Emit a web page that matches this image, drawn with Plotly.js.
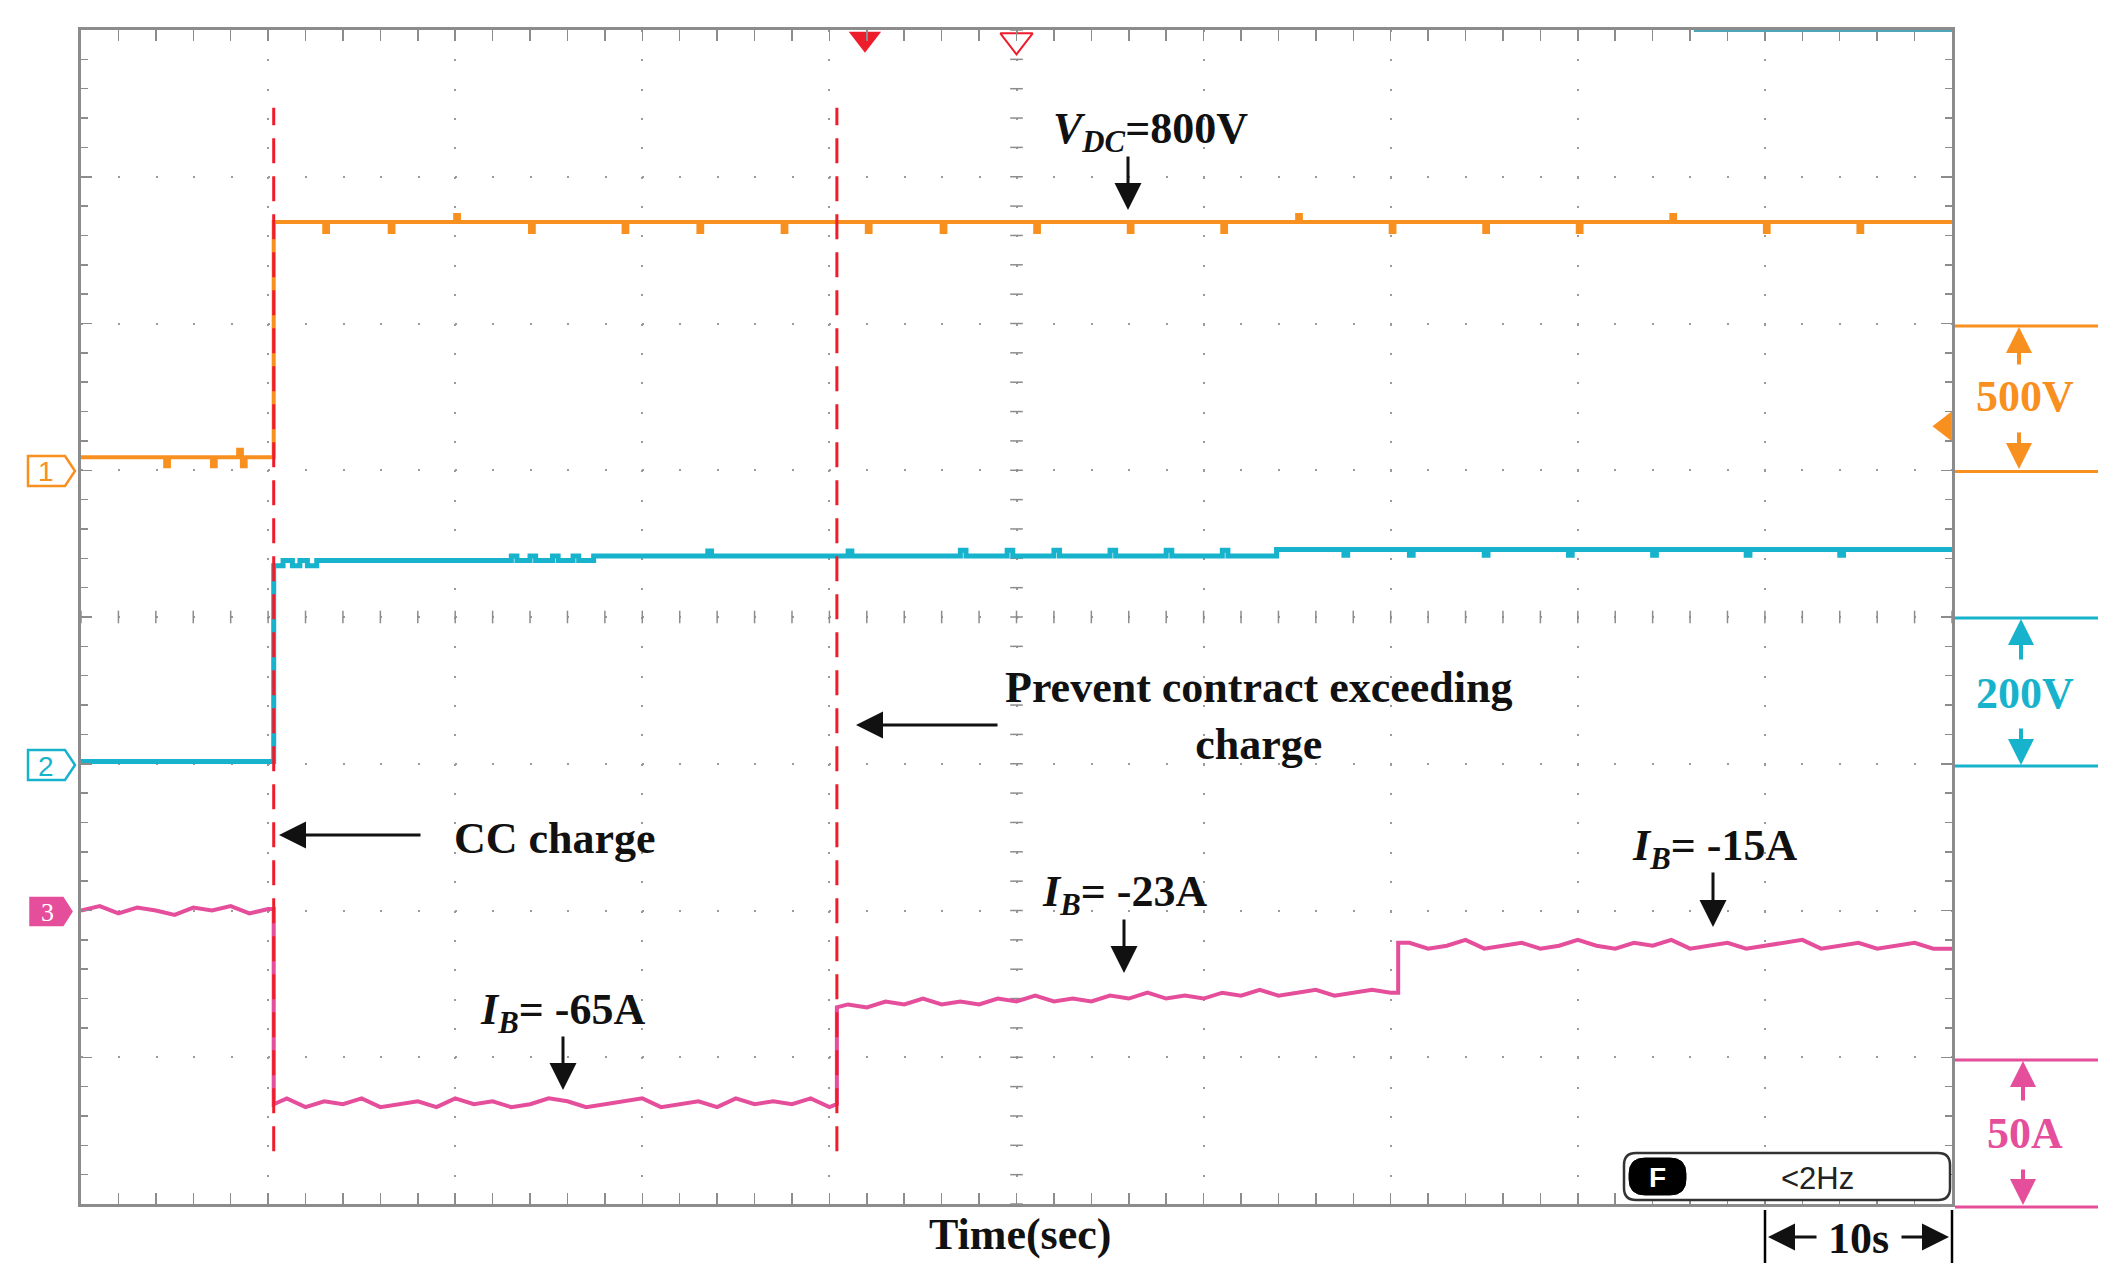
<!DOCTYPE html>
<html><head><meta charset="utf-8">
<script src="https://cdn.plot.ly/plotly-3.0.1.min.js"></script>
<style>html,body{margin:0;padding:0;background:#fff}#chart{width:2118px;height:1285px}</style>
</head><body><div id="chart"></div>
<script>
// ---- data ----
// Channel 1: DC bus voltage (V), step series
const ch1Time  = [0,4.5,4.7,7.0,7.2,8.4,8.6,8.8,10.3,13.0,13.2,16.5,16.7,20.0,20.2,24.0,24.2,29.0,29.2,33.0,33.2,37.5,37.7,42.0,42.2,46.0,46.2,51.0,51.2,56.0,56.2,61.0,61.2,65.0,65.2,70.0,70.2,75.0,75.2,80.0,80.2,85.0,85.2,90.0,90.2,95.0,95.2,100];
const ch1Volts = [44,14,44,14,44,70,14,44,846,812,846,812,846,870,846,812,846,812,846,812,846,812,846,812,846,812,846,812,846,812,846,812,846,870,846,812,846,812,846,812,846,870,846,812,846,812,846,846];
// Channel 2: battery voltage (V), step series
const ch2Time  = [0,10.3,10.8,11.3,11.7,12.1,12.6,23.0,23.3,24.0,24.3,25.2,25.5,26.3,26.6,27.4,33.5,33.7,41.0,41.2,47.0,47.3,49.5,49.8,52.0,52.3,55.0,55.3,58.0,58.3,61.0,61.3,63.9,67.5,67.7,71.0,71.2,75.0,75.2,79.5,79.7,84.0,84.2,89.0,89.2,94.0,94.2,100];
const ch2Volts = [3,270,277,270,277,270,277,283,277,283,277,283,277,283,277,283,290,283,290,283,291,283,291,283,291,283,291,283,291,283,291,283,292,284,292,284,292,284,292,284,292,284,292,284,292,284,292,292];
// Channel 3: battery current (A)
const ch3Time = [0,1,2,3,4,5,6,7,8,9,10,10.3,10.3,
  11,12,13,14,15,16,17,18,19,20,21,22,23,24,25,26,27,28,29,30,31,32,33,34,35,36,37,38,39,40,40.4,40.4,
  41,42,43,44,45,46,47,48,49,50,51,52,53,54,55,56,57,58,59,60,61,62,63,64,65,66,67,68,69,70,70.4,70.4,
  71,72,73,74,75,76,77,78,79,80,81,82,83,84,85,86,87,88,89,90,91,92,93,94,95,96,97,98,99,100];
const ch3Amps = [0,1.5,-1,1,0,-1.5,1,0,1.5,-1,0.5,0.5,-66,
  -64,-67,-65,-66,-64,-67,-66,-65,-67,-64,-66,-65,-67,-66,-64,-65,-67,-66,-65,-64,-67,-66,-65,-67,-64,-66,-65,-66,-64,-67,-66,-33,
  -32,-33,-31,-32,-30,-32,-31,-32,-30,-31,-29,-31,-30,-31,-29,-30,-28,-30,-29,-30,-28,-29,-27,-29,-28,-27,-29,-28,-27,-28,-28,-11,
  -11,-13,-12,-10,-13,-12,-11,-13,-12,-10,-12,-13,-11,-12,-10,-13,-12,-11,-13,-12,-11,-10,-13,-12,-11,-13,-12,-11,-13,-13];
const eventTimes = [10.3, 40.4];          // red dashed event lines (s)
const triggerTime = 41.9;                  // filled trigger marker (s)
const channelNames = ['1','2','3'];
const scaleLabels = ['500V','200V','50A'];
const annotTexts = ['<b><i>V</i><sub><i>DC</i></sub>=800V</b>','<b>CC charge</b>','<b>Prevent contract exceeding<br>charge</b>',
  '<b><i>I</i><sub><i>B</i></sub>= -65A</b>','<b><i>I</i><sub><i>B</i></sub>= -23A</b>','<b><i>I</i><sub><i>B</i></sub>= -15A</b>'];

// ---- styles / layout helpers ----
const C1='#f7901e', C2='#17b3cc', C3='#e54e9a', RED='#ee1d2c', GRAY='#8c8c8c';
const L=81,R=1952,T=30,B=1204;
const X=p=>(p-L)/(R-L), Y=p=>(B-p)/(B-T);
const SERIF='Liberation Serif, Times New Roman, serif', SANS='Liberation Sans, Arial, sans-serif';

function txt(t,x,y,size,color,family){return {text:t,xref:'paper',yref:'paper',x:X(x),y:Y(y),xanchor:'center',yanchor:'middle',showarrow:false,font:{size:size,color:color,family:family||SERIF}};}
function arrow(tx,ty,sx,sy,color,w,s){return {text:'',xref:'paper',yref:'paper',x:X(tx),y:Y(ty),ax:sx-tx,ay:sy-ty,axref:'pixel',ayref:'pixel',showarrow:true,arrowhead:2,arrowsize:s||1.3,arrowwidth:w||3,arrowcolor:color,standoff:0,startstandoff:0};}
function hline(x0,x1,y,color,w){return {type:'line',xref:'paper',yref:'paper',x0:X(x0),x1:X(x1),y0:Y(y),y1:Y(y),line:{color:color,width:w}};}
function vline(x,y0,y1,color,w){return {type:'line',xref:'paper',yref:'paper',x0:X(x),x1:X(x),y0:Y(y0),y1:Y(y1),line:{color:color,width:w}};}
function rr(x0,y0,x1,y1,r){
  return `M${X(x0+r)},${Y(y0)} L${X(x1-r)},${Y(y0)} Q${X(x1)},${Y(y0)} ${X(x1)},${Y(y0+r)} L${X(x1)},${Y(y1-r)} Q${X(x1)},${Y(y1)} ${X(x1-r)},${Y(y1)} L${X(x0+r)},${Y(y1)} Q${X(x0)},${Y(y1)} ${X(x0)},${Y(y1-r)} L${X(x0)},${Y(y0+r)} Q${X(x0)},${Y(y0)} ${X(x0+r)},${Y(y0)} Z`;
}
function tag(x0,xb,xt,yc,h){return `M${X(x0)},${Y(yc-h)} L${X(xb)},${Y(yc-h)} L${X(xt)},${Y(yc)} L${X(xb)},${Y(yc+h)} L${X(x0)},${Y(yc+h)} Z`;}

// centre-line tick decorations (graticule)
const cxX=[],cxY=[],cyX=[],cyY=[];
for(let k=0;k<=40;k++){cxX.push(50);cxY.push(k*0.2);}
for(let k=0;k<=50;k++){cyX.push(k*2);cyY.push(4);}

const traces=[
  {x:cxX,y:cxY,xaxis:'x',yaxis:'y',mode:'markers',marker:{symbol:'line-ew',size:9,line:{color:GRAY,width:1.5}},hoverinfo:'skip'},
  {x:cyX,y:cyY,xaxis:'x',yaxis:'y',mode:'markers',marker:{symbol:'line-ns',size:9,line:{color:GRAY,width:1.5}},hoverinfo:'skip'},
  {x:ch1Time,y:ch1Volts,xaxis:'x',yaxis:'y2',mode:'lines',line:{color:C1,width:4,shape:'hv'},name:'CH1'},
  {x:ch2Time,y:ch2Volts,xaxis:'x',yaxis:'y3',mode:'lines',line:{color:C2,width:5,shape:'hv'},name:'CH2'},
  {x:ch3Time,y:ch3Amps,xaxis:'x',yaxis:'y4',mode:'lines',line:{color:C3,width:4},name:'CH3'},
  {x:[triggerTime],y:[7.94],xaxis:'x',yaxis:'y',mode:'markers',cliponaxis:false,marker:{symbol:'triangle-down',size:28,color:RED},hoverinfo:'skip'},
  {x:[50],y:[7.93],xaxis:'x',yaxis:'y',mode:'markers',cliponaxis:false,marker:{symbol:'triangle-down-open',size:28,color:RED,line:{width:2,color:RED}},hoverinfo:'skip'},
  {x:[99.65],y:[5.3],xaxis:'x',yaxis:'y',mode:'markers',cliponaxis:false,marker:{symbol:'triangle-left',size:26,color:C1},hoverinfo:'skip'}
];

const shapes=[];
eventTimes.forEach(t=>shapes.push({type:'line',xref:'x',yref:'y',x0:t,x1:t,y0:0.36,y1:7.47,line:{color:RED,width:3,dash:'25px,13px'}}));
shapes.push({type:'line',xref:'x',yref:'y',x0:86.2,x1:100,y0:8,y1:8,line:{color:'#4da6b9',width:4}});
// right scale bars
shapes.push(hline(1955,2098,326,C1,3),hline(1955,2098,471.5,C1,3));
shapes.push(hline(1955,2098,618,C2,3),hline(1955,2098,766,C2,3));
shapes.push(hline(1955,2098,1060,C3,3),hline(1955,2098,1207,C3,3));
// channel tags
shapes.push({type:'path',xref:'paper',yref:'paper',path:tag(28,65,75,471,15),line:{color:C1,width:2.5},fillcolor:'#fff'});
shapes.push({type:'path',xref:'paper',yref:'paper',path:tag(28,65,75,765,15),line:{color:C2,width:2.5},fillcolor:'#fff'});
shapes.push({type:'path',xref:'paper',yref:'paper',path:tag(30,63,72,911.5,14),line:{color:C3,width:1.5},fillcolor:C3});
// F <2Hz box
shapes.push({type:'path',xref:'paper',yref:'paper',path:rr(1624,1153,1950,1200,12),line:{color:'#333',width:2.5},fillcolor:'#fff'});
shapes.push({type:'path',xref:'paper',yref:'paper',path:rr(1629,1158,1686,1195,16),line:{color:'#000',width:1},fillcolor:'#000'});
// 10s bars
shapes.push(vline(1765,1210,1263,'#000',2.5),vline(1952,1210,1263,'#000',2.5));

const ann=[];
ann.push(txt('<b>'+scaleLabels[0]+'</b>',2025,397,44,C1,SERIF),arrow(2019,327,2019,366,C1,4,1.3),arrow(2019,469,2019,431,C1,4,1.3));
ann.push(txt('<b>'+scaleLabels[1]+'</b>',2025,693,44,C2,SERIF),arrow(2021,619,2021,661,C2,4,1.3),arrow(2021,765,2021,727,C2,4,1.3));
ann.push(txt('<b>'+scaleLabels[2]+'</b>',2025,1133,44,C3,SERIF),arrow(2023,1061,2023,1102,C3,4,1.3),arrow(2023,1205,2023,1168,C3,4,1.3));
ann.push(txt(channelNames[0],46,472,28,C1,SANS),txt(channelNames[1],46,766,28,C2,SANS),txt(channelNames[2],47,912,26,'#fff',SERIF));
ann.push(txt(annotTexts[0],1150,132,44,'#111'),arrow(1128,210,1128,155,'#111',3,1.8));
ann.push(txt(annotTexts[1],555,838,44,'#111'),arrow(279,835,422,835,'#111',3,1.8));
ann.push(txt(annotTexts[2],1258,716,44,'#111'),arrow(856,725,999,725,'#111',3,1.8));
ann.push(txt(annotTexts[3],562,1012,44,'#111'),arrow(563,1090,563,1035,'#111',3,1.8));
ann.push(txt(annotTexts[4],1124,894,44,'#111'),arrow(1124,973,1124,918,'#111',3,1.8));
ann.push(txt(annotTexts[5],1714,849,44,'#111'),arrow(1713,927,1713,871,'#111',3,1.8));
ann.push(txt('<b>Time(sec)</b>',1020,1234,44,'#111'));
ann.push(txt('<b>10s</b>',1858,1238,44,'#111'),arrow(1768,1237,1818,1237,'#111',3,1.8),arrow(1949,1237,1900,1237,'#111',3,1.8));
ann.push(txt('&lt;2Hz',1817,1178,31,'#222',SANS),txt('<b>F</b>',1657,1177,28,'#fff',SANS));

const axBase={showline:true,linecolor:GRAY,linewidth:3,mirror:'allticks',ticks:'inside',tickcolor:GRAY,tickwidth:1.5,
  showticklabels:false,zeroline:false,showgrid:true,gridcolor:'#9a9a9a',gridwidth:2,fixedrange:true};
const layout={
  width:2118,height:1285,paper_bgcolor:'#fff',plot_bgcolor:'#fff',showlegend:false,hovermode:false,
  margin:{l:L,r:2118-R,t:T,b:1285-B,pad:0},
  xaxis:Object.assign({},axBase,{range:[0,100],dtick:10,tick0:0,ticklen:11,griddash:'2px,27.35px',
    minor:{dtick:2,tick0:0,ticks:'inside',ticklen:7,tickcolor:GRAY,tickwidth:1.5,showgrid:false}}),
  yaxis:Object.assign({},axBase,{range:[0,8],dtick:1,tick0:0,ticklen:11,griddash:'2px,35.4px',
    minor:{dtick:0.2,tick0:0,ticks:'inside',ticklen:7,tickcolor:GRAY,tickwidth:1.5,showgrid:false}}),
  yaxis2:{overlaying:'y',range:[-2500,1500],visible:false,fixedrange:true},
  yaxis3:{overlaying:'y',range:[-600,1000],visible:false,fixedrange:true},
  yaxis4:{overlaying:'y',range:[-100,300],visible:false,fixedrange:true},
  shapes:shapes,annotations:ann
};
Plotly.newPlot('chart',traces,layout,{staticPlot:true,displayModeBar:false});
</script></body></html>
